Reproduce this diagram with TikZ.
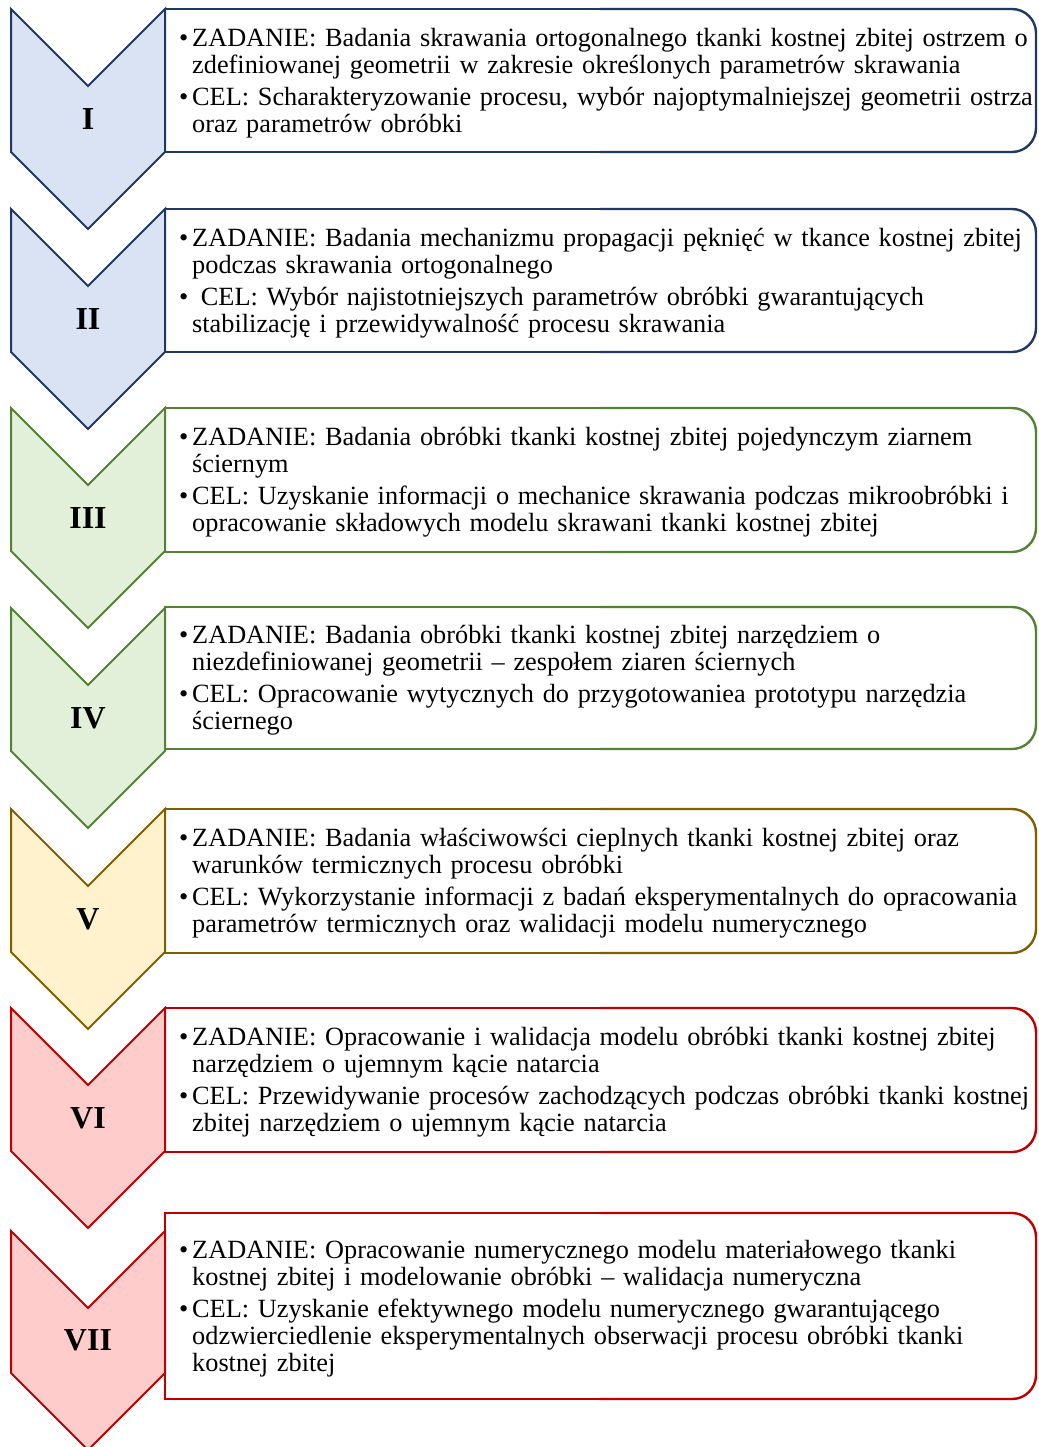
\documentclass[tikz,border=0pt]{standalone}
\usepackage{fontspec}
\setmainfont{Liberation Serif}

% stage palettes: fill / line
\definecolor{blueF}{HTML}{DAE3F3}\definecolor{blueL}{HTML}{1F3864}
\definecolor{greenF}{HTML}{E2F0D9}\definecolor{greenL}{HTML}{548235}
\definecolor{yellowF}{HTML}{FFF2CC}\definecolor{yellowL}{HTML}{7F6000}
\definecolor{redF}{HTML}{FFCCCC}\definecolor{redL}{HTML}{C00000}

% one bulleted paragraph with a hanging indent
\newcommand\bul[1]{\par\hangindent=13pt\hangafter=1\noindent\makebox[13pt][l]{•}#1\par}
\newcommand\bulgap{\vspace{5pt}}

% chevron: #1 top y, #2 side length, #3 fill, #4 line colour
\newcommand\chevron[4]{%
  \draw[chev,fill=#3,draw=#4] (11,#1) -- (88,#1+77) -- (165,#1) -- (165,#1+#2)
    -- (88,#1+#2+77) -- (11,#1+#2) -- cycle;}
% text frame: square on the left, rounded on the right; #1 top, #2 bottom, #3 colour
\newcommand\taskframe[3]{%
  \draw[frameline,draw=#3] (600,#1) -- (165,#1) -- (165,#2) -- (600,#2);
  \draw[frameline,draw=#3,rounded corners=24pt] (600,#1) -- (1036,#1) -- (1036,#2) -- (600,#2);}

\begin{document}
\begin{tikzpicture}[x=1pt,y=-1pt,
  chev/.style={line width=2pt,line join=miter},
  frameline/.style={line width=2.4pt},
  numeral/.style={font=\fontsize{32}{32}\selectfont\bfseries,inner sep=0pt},
  txt/.style={anchor=west,inner sep=0pt,text width=880pt,
    font=\fontsize{26.3}{27}\selectfont\raggedright}]
\useasboundingbox (0,0) rectangle (1038,1447);

% I
\chevron{9}{143}{blueF}{blueL}
\taskframe{9}{152}{blueL}
\node[numeral] (n1) at (88,119) {I};
\node[txt] (t1) at (179,79) {%
  \bul{ZADANIE: Badania skrawania ortogonalnego tkanki kostnej zbitej ostrzem o\newline zdefiniowanej geometrii w zakresie określonych parametrów skrawania}\bulgap
  \bul{CEL: Scharakteryzowanie procesu, wybór najoptymalniejszej geometrii ostrza\newline oraz parametrów obróbki}};

% II
\chevron{209}{143}{blueF}{blueL}
\taskframe{209}{352}{blueL}
\node[numeral] (n2) at (88,319) {II};
\node[txt] (t2) at (179,279) {%
  \bul{ZADANIE: Badania mechanizmu propagacji pęknięć w tkance kostnej zbitej\newline podczas skrawania ortogonalnego}\bulgap
  \bul{ CEL: Wybór najistotniejszych parametrów obróbki gwarantujących\newline stabilizację i przewidywalność procesu skrawania}};

% III
\chevron{408}{143}{greenF}{greenL}
\taskframe{408}{552}{greenL}
\node[numeral] (n3) at (88,518) {III};
\node[txt] (t3) at (179,478) {%
  \bul{ZADANIE: Badania obróbki tkanki kostnej zbitej pojedynczym ziarnem\newline ściernym}\bulgap
  \bul{CEL: Uzyskanie informacji o mechanice skrawania podczas mikroobróbki i\newline opracowanie składowych modelu skrawani tkanki kostnej zbitej}};

% IV
\chevron{608}{143}{greenF}{greenL}
\taskframe{607}{749}{greenL}
\node[numeral] (n4) at (88,718) {IV};
\node[txt] (t4) at (179,676) {%
  \bul{ZADANIE: Badania obróbki tkanki kostnej zbitej narzędziem o\newline niezdefiniowanej geometrii – zespołem ziaren ściernych}\bulgap
  \bul{CEL: Opracowanie wytycznych do przygotowaniea prototypu narzędzia\newline ściernego}};

% V
\chevron{809}{143}{yellowF}{yellowL}
\taskframe{809}{953}{yellowL}
\node[numeral] (n5) at (88,919) {V};
\node[txt] (t5) at (179,879) {%
  \bul{ZADANIE: Badania właściwowści cieplnych tkanki kostnej zbitej oraz\newline warunków termicznych procesu obróbki}\bulgap
  \bul{CEL: Wykorzystanie informacji z badań eksperymentalnych do opracowania\newline parametrów termicznych oraz walidacji modelu numerycznego}};

% VI
\chevron{1008}{143}{redF}{redL}
\taskframe{1008}{1152}{redL}
\node[numeral] (n6) at (88,1118) {VI};
\node[txt] (t6) at (179,1078) {%
  \bul{ZADANIE: Opracowanie i walidacja modelu obróbki tkanki kostnej zbitej\newline narzędziem o ujemnym kącie natarcia}\bulgap
  \bul{CEL: Przewidywanie procesów zachodzących podczas obróbki tkanki kostnej\newline zbitej narzędziem o ujemnym kącie natarcia}};

% VII
\chevron{1231}{142}{redF}{redL}
\taskframe{1213}{1399}{redL}
\node[numeral] (n7) at (88,1340) {VII};
\node[txt] (t7) at (179,1304) {%
  \bul{ZADANIE: Opracowanie numerycznego modelu materiałowego tkanki\newline kostnej zbitej i modelowanie obróbki – walidacja numeryczna}\bulgap
  \bul{CEL: Uzyskanie efektywnego modelu numerycznego gwarantującego\newline odzwierciedlenie eksperymentalnych obserwacji procesu obróbki tkanki\newline kostnej zbitej}};
\end{tikzpicture}
\end{document}
